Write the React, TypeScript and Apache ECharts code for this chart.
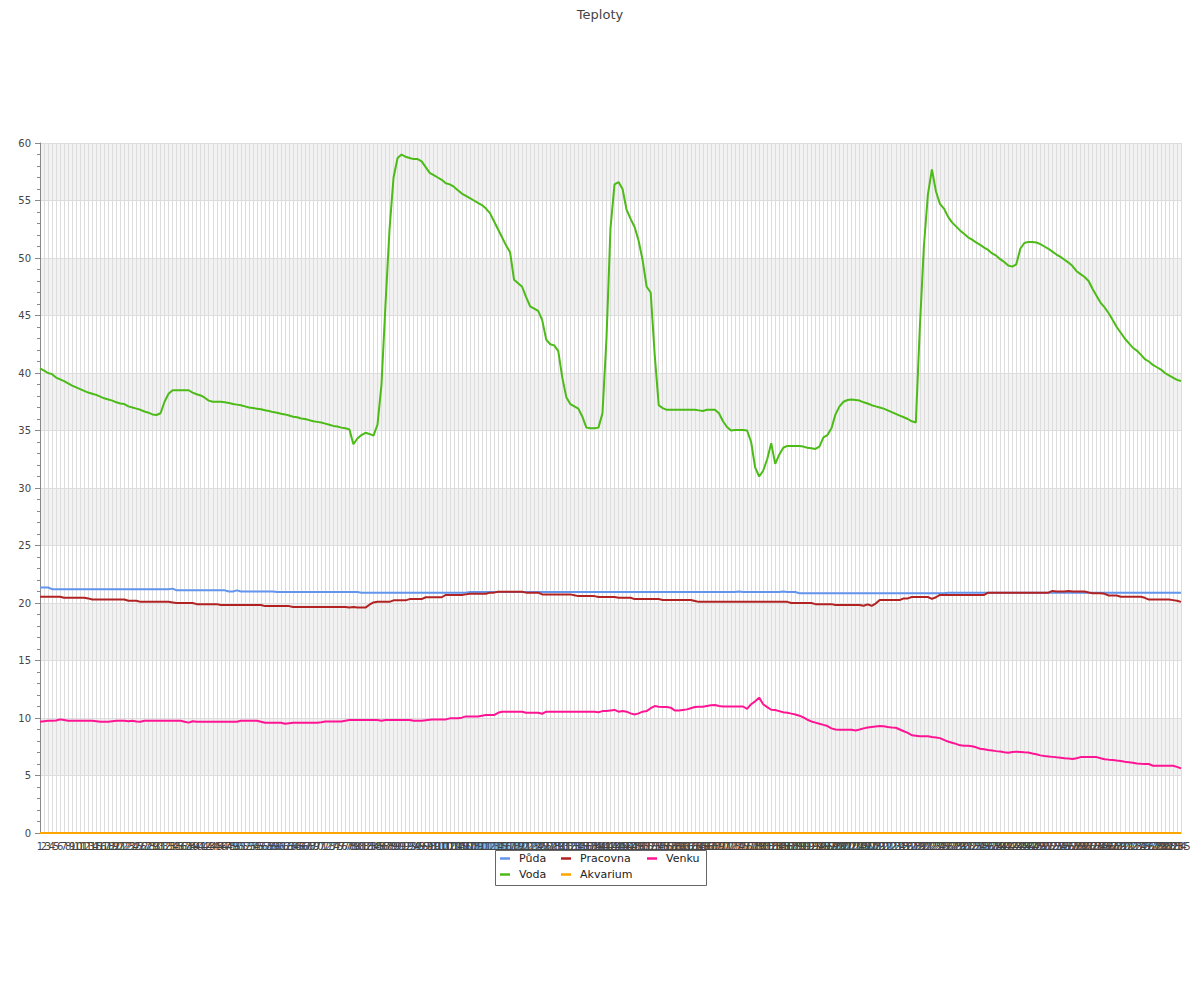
import React, { useEffect, useRef } from "react";
import * as echarts from "echarts";

const categories: string[] = Array.from({ length: 285 }, (_, i) => String(i + 1));

const seriesNames = ["Půda", "Voda", "Pracovna", "Akvarium", "Venku"];
const seriesColors = ["#6495ed", "#4cbb17", "#b22222", "#ffa500", "#ff1493"];

const puda: number[] = [
  21.35, 21.35, 21.35, 21.2, 21.2, 21.2, 21.2, 21.2, 21.2, 21.2,
  21.2, 21.2, 21.2, 21.2, 21.2, 21.2, 21.2, 21.2, 21.2, 21.2,
  21.2, 21.2, 21.2, 21.2, 21.2, 21.2, 21.2, 21.2, 21.2, 21.2,
  21.2, 21.2, 21.2, 21.25, 21.1, 21.1, 21.1, 21.1, 21.1, 21.1,
  21.1, 21.1, 21.1, 21.1, 21.1, 21.1, 21.1, 21.0, 21.0, 21.1,
  21.0, 21.0, 21.0, 21.0, 21.0, 21.0, 21.0, 21.0, 21.0, 20.95,
  20.95, 20.95, 20.95, 20.95, 20.95, 20.95, 20.95, 20.95, 20.95, 20.95,
  20.95, 20.95, 20.95, 20.95, 20.95, 20.95, 20.95, 20.95, 20.95, 20.95,
  20.9, 20.9, 20.9, 20.9, 20.9, 20.9, 20.9, 20.9, 20.9, 20.9,
  20.9, 20.9, 20.9, 20.9, 20.9, 20.9, 20.9, 20.9, 20.9, 20.9,
  20.9, 20.9, 20.9, 20.9, 20.9, 20.9, 20.9, 20.95, 20.95, 20.95,
  20.95, 20.95, 20.95, 20.95, 20.95, 20.95, 20.95, 20.95, 20.95, 20.95,
  20.95, 20.95, 20.95, 20.95, 20.95, 20.95, 20.95, 20.95, 20.95, 20.95,
  20.95, 20.95, 20.95, 20.95, 20.95, 20.95, 20.95, 20.95, 20.95, 20.95,
  20.95, 20.95, 20.95, 20.95, 20.95, 20.95, 20.95, 20.95, 20.95, 20.95,
  20.95, 20.95, 20.95, 20.95, 20.95, 20.95, 20.95, 20.95, 20.95, 20.95,
  20.95, 20.95, 20.95, 20.95, 20.95, 20.95, 20.95, 20.95, 20.95, 20.95,
  20.95, 20.95, 20.95, 20.95, 21.0, 20.95, 20.95, 20.95, 20.95, 20.95,
  20.95, 20.95, 20.95, 20.95, 20.95, 21.0, 20.95, 20.95, 20.95, 20.85,
  20.85, 20.85, 20.85, 20.85, 20.85, 20.85, 20.85, 20.85, 20.85, 20.85,
  20.85, 20.85, 20.85, 20.85, 20.85, 20.85, 20.85, 20.85, 20.85, 20.85,
  20.85, 20.85, 20.85, 20.85, 20.85, 20.85, 20.85, 20.85, 20.85, 20.85,
  20.85, 20.85, 20.85, 20.85, 20.85, 20.85, 20.9, 20.9, 20.9, 20.9,
  20.9, 20.9, 20.9, 20.9, 20.9, 20.9, 20.9, 20.9, 20.9, 20.9,
  20.9, 20.9, 20.9, 20.9, 20.9, 20.9, 20.9, 20.9, 20.9, 20.9,
  20.9, 20.9, 20.9, 20.9, 20.9, 20.9, 20.9, 20.9, 20.9, 20.9,
  20.9, 20.9, 20.9, 20.9, 20.9, 20.9, 20.9, 20.9, 20.9, 20.9,
  20.9, 20.9, 20.9, 20.9, 20.9, 20.9, 20.9, 20.9, 20.9, 20.9,
  20.9, 20.9, 20.9, 20.9, 20.9,
];

const voda: number[] = [
  40.4, 40.2, 40.0, 39.9, 39.6, 39.45, 39.3, 39.1, 38.9, 38.75,
  38.6, 38.45, 38.3, 38.2, 38.1, 37.95, 37.8, 37.7, 37.6, 37.45,
  37.35, 37.3, 37.1, 37.0, 36.9, 36.8, 36.65, 36.55, 36.4, 36.35,
  36.5, 37.5, 38.2, 38.5, 38.5, 38.5, 38.5, 38.5, 38.3, 38.15,
  38.05, 37.85, 37.6, 37.5, 37.5, 37.5, 37.45, 37.4, 37.3, 37.25,
  37.2, 37.1, 37.0, 36.95, 36.9, 36.85, 36.76, 36.7, 36.6, 36.55,
  36.45, 36.4, 36.3, 36.2, 36.15, 36.05, 36.0, 35.9, 35.8, 35.75,
  35.7, 35.6, 35.5, 35.4, 35.35, 35.25, 35.2, 35.1, 33.8, 34.3,
  34.6, 34.8, 34.7, 34.55, 35.5, 39.0, 46.0, 52.5, 57.0, 58.7,
  59.0, 58.8, 58.7, 58.6, 58.6, 58.4, 57.9, 57.4, 57.2, 57.0,
  56.8, 56.5, 56.4, 56.2, 55.9, 55.6, 55.4, 55.2, 55.0, 54.8,
  54.6, 54.3, 53.9, 53.2, 52.5, 51.8, 51.1, 50.5, 48.1, 47.8,
  47.5, 46.6, 45.8, 45.6, 45.4, 44.6, 42.9, 42.5, 42.4, 41.9,
  39.6, 37.9, 37.3, 37.1, 36.9, 36.2, 35.25, 35.2, 35.2, 35.25,
  36.5, 43.0, 52.6, 56.4, 56.6, 56.0, 54.2, 53.4, 52.7, 51.5,
  49.8, 47.5, 47.0, 41.6, 37.2, 36.95, 36.8, 36.8, 36.8, 36.8,
  36.8, 36.8, 36.8, 36.8, 36.75, 36.7, 36.8, 36.8, 36.8, 36.5,
  35.8, 35.3, 35.0, 35.05, 35.05, 35.05, 35.0, 34.0, 31.8, 31.0,
  31.5, 32.5, 33.9, 32.1, 32.9, 33.5, 33.66, 33.66, 33.66, 33.66,
  33.6, 33.5, 33.45, 33.4, 33.6, 34.4, 34.6, 35.2, 36.4, 37.1,
  37.5, 37.65, 37.7, 37.65, 37.6, 37.45, 37.35, 37.2, 37.1, 37.0,
  36.9, 36.75, 36.6, 36.45, 36.3, 36.15, 36.0, 35.8, 35.7, 44.0,
  51.0, 55.5, 57.7, 55.8, 54.7, 54.3, 53.6, 53.1, 52.75, 52.4,
  52.1, 51.8, 51.6, 51.35, 51.15, 50.9, 50.7, 50.4, 50.2, 49.9,
  49.65, 49.35, 49.25, 49.45, 50.8, 51.3, 51.4, 51.4, 51.35, 51.2,
  51.0, 50.8, 50.55, 50.3, 50.1, 49.85, 49.6, 49.3, 48.85, 48.6,
  48.35, 48.0, 47.3, 46.7, 46.1, 45.7, 45.2, 44.6, 44.0, 43.5,
  43.0, 42.6, 42.2, 41.95, 41.6, 41.2, 41.0, 40.7, 40.5, 40.3,
  40.0, 39.8, 39.6, 39.4, 39.3,
];

const pracovna: number[] = [
  20.55, 20.55, 20.55, 20.55, 20.55, 20.55, 20.46, 20.46, 20.46, 20.46,
  20.46, 20.46, 20.4, 20.3, 20.3, 20.3, 20.3, 20.3, 20.3, 20.3,
  20.3, 20.3, 20.2, 20.2, 20.2, 20.1, 20.1, 20.1, 20.1, 20.1,
  20.1, 20.1, 20.1, 20.05, 20.0, 20.0, 20.0, 20.0, 20.0, 19.9,
  19.9, 19.9, 19.9, 19.9, 19.9, 19.82, 19.82, 19.82, 19.82, 19.82,
  19.82, 19.82, 19.82, 19.82, 19.82, 19.82, 19.73, 19.73, 19.73, 19.73,
  19.73, 19.73, 19.73, 19.65, 19.65, 19.65, 19.65, 19.65, 19.65, 19.65,
  19.65, 19.65, 19.65, 19.65, 19.65, 19.65, 19.65, 19.6, 19.65, 19.6,
  19.6, 19.6, 19.85, 20.05, 20.1, 20.1, 20.1, 20.1, 20.23, 20.23,
  20.23, 20.23, 20.34, 20.34, 20.34, 20.34, 20.5, 20.5, 20.5, 20.5,
  20.5, 20.7, 20.7, 20.7, 20.7, 20.7, 20.75, 20.8, 20.8, 20.8,
  20.8, 20.8, 20.9, 20.9, 20.98, 20.98, 20.98, 20.98, 20.98, 20.98,
  20.98, 20.9, 20.9, 20.9, 20.9, 20.75, 20.75, 20.75, 20.75, 20.75,
  20.75, 20.75, 20.75, 20.68, 20.6, 20.6, 20.6, 20.6, 20.6, 20.52,
  20.52, 20.52, 20.52, 20.52, 20.46, 20.46, 20.46, 20.46, 20.34, 20.34,
  20.34, 20.34, 20.34, 20.34, 20.34, 20.26, 20.26, 20.26, 20.26, 20.26,
  20.26, 20.26, 20.26, 20.18, 20.1, 20.1, 20.1, 20.1, 20.1, 20.1,
  20.1, 20.1, 20.1, 20.1, 20.1, 20.1, 20.1, 20.1, 20.1, 20.1,
  20.1, 20.1, 20.1, 20.1, 20.1, 20.1, 20.1, 20.0, 20.0, 20.0,
  20.0, 20.0, 20.0, 19.9, 19.9, 19.9, 19.9, 19.9, 19.82, 19.82,
  19.82, 19.82, 19.82, 19.82, 19.82, 19.76, 19.88, 19.76, 19.95, 20.26,
  20.26, 20.26, 20.26, 20.26, 20.26, 20.4, 20.4, 20.52, 20.52, 20.52,
  20.52, 20.52, 20.36, 20.5, 20.7, 20.7, 20.7, 20.7, 20.7, 20.7,
  20.7, 20.7, 20.7, 20.7, 20.7, 20.7, 20.9, 20.9, 20.9, 20.9,
  20.9, 20.9, 20.9, 20.9, 20.9, 20.9, 20.9, 20.9, 20.9, 20.9,
  20.9, 20.9, 21.05, 21.0, 21.0, 21.0, 21.05, 21.0, 21.0, 21.0,
  21.0, 20.92, 20.85, 20.85, 20.85, 20.8, 20.65, 20.65, 20.65, 20.55,
  20.55, 20.55, 20.55, 20.55, 20.55, 20.45, 20.3, 20.3, 20.3, 20.3,
  20.3, 20.3, 20.25, 20.2, 20.1,
];

const akvarium: number[] = [
  0, 0, 0, 0, 0, 0, 0, 0, 0, 0, 0, 0, 0, 0, 0,
  0, 0, 0, 0, 0, 0, 0, 0, 0, 0, 0, 0, 0, 0, 0,
  0, 0, 0, 0, 0, 0, 0, 0, 0, 0, 0, 0, 0, 0, 0,
  0, 0, 0, 0, 0, 0, 0, 0, 0, 0, 0, 0, 0, 0, 0,
  0, 0, 0, 0, 0, 0, 0, 0, 0, 0, 0, 0, 0, 0, 0,
  0, 0, 0, 0, 0, 0, 0, 0, 0, 0, 0, 0, 0, 0, 0,
  0, 0, 0, 0, 0, 0, 0, 0, 0, 0, 0, 0, 0, 0, 0,
  0, 0, 0, 0, 0, 0, 0, 0, 0, 0, 0, 0, 0, 0, 0,
  0, 0, 0, 0, 0, 0, 0, 0, 0, 0, 0, 0, 0, 0, 0,
  0, 0, 0, 0, 0, 0, 0, 0, 0, 0, 0, 0, 0, 0, 0,
  0, 0, 0, 0, 0, 0, 0, 0, 0, 0, 0, 0, 0, 0, 0,
  0, 0, 0, 0, 0, 0, 0, 0, 0, 0, 0, 0, 0, 0, 0,
  0, 0, 0, 0, 0, 0, 0, 0, 0, 0, 0, 0, 0, 0, 0,
  0, 0, 0, 0, 0, 0, 0, 0, 0, 0, 0, 0, 0, 0, 0,
  0, 0, 0, 0, 0, 0, 0, 0, 0, 0, 0, 0, 0, 0, 0,
  0, 0, 0, 0, 0, 0, 0, 0, 0, 0, 0, 0, 0, 0, 0,
  0, 0, 0, 0, 0, 0, 0, 0, 0, 0, 0, 0, 0, 0, 0,
  0, 0, 0, 0, 0, 0, 0, 0, 0, 0, 0, 0, 0, 0, 0,
  0, 0, 0, 0, 0, 0, 0, 0, 0, 0, 0, 0, 0, 0, 0,
];

const venku: number[] = [
  9.68, 9.72, 9.76, 9.76, 9.78, 9.88, 9.82, 9.76, 9.76, 9.76,
  9.76, 9.76, 9.76, 9.76, 9.72, 9.68, 9.68, 9.68, 9.72, 9.76,
  9.76, 9.76, 9.72, 9.76, 9.7, 9.68, 9.76, 9.76, 9.76, 9.76,
  9.76, 9.76, 9.76, 9.76, 9.76, 9.76, 9.68, 9.6, 9.72, 9.68,
  9.68, 9.68, 9.68, 9.68, 9.68, 9.68, 9.68, 9.68, 9.68, 9.68,
  9.76, 9.76, 9.76, 9.76, 9.76, 9.68, 9.59, 9.59, 9.59, 9.59,
  9.59, 9.5, 9.55, 9.59, 9.59, 9.59, 9.59, 9.59, 9.59, 9.59,
  9.64, 9.7, 9.7, 9.7, 9.7, 9.7, 9.76, 9.82, 9.82, 9.82,
  9.82, 9.82, 9.82, 9.82, 9.82, 9.76, 9.82, 9.82, 9.82, 9.82,
  9.82, 9.82, 9.82, 9.76, 9.76, 9.76, 9.8, 9.84, 9.88, 9.88,
  9.88, 9.88, 9.97, 9.97, 9.97, 10.03, 10.14, 10.14, 10.14, 10.14,
  10.2, 10.26, 10.26, 10.26, 10.45, 10.55, 10.55, 10.55, 10.55, 10.55,
  10.55, 10.46, 10.46, 10.46, 10.46, 10.37, 10.55, 10.55, 10.55, 10.55,
  10.55, 10.55, 10.55, 10.55, 10.55, 10.55, 10.55, 10.55, 10.55, 10.5,
  10.6, 10.6, 10.65, 10.7, 10.55, 10.6, 10.55, 10.4, 10.3, 10.4,
  10.55, 10.6, 10.85, 11.04, 10.98, 10.95, 10.95, 10.9, 10.65, 10.65,
  10.7, 10.75, 10.85, 10.95, 10.98, 10.98, 11.05, 11.1, 11.13, 11.05,
  11.0, 11.0, 11.0, 11.0, 11.0, 11.0, 10.8, 11.2, 11.45, 11.77,
  11.2, 10.95, 10.72, 10.7, 10.6, 10.5, 10.45, 10.38, 10.3, 10.2,
  10.05, 9.85, 9.7, 9.6, 9.5, 9.4, 9.3, 9.1, 9.0, 8.98,
  8.98, 8.98, 8.98, 8.92, 9.0, 9.1, 9.18, 9.22, 9.26, 9.3,
  9.28, 9.22, 9.18, 9.15, 9.0, 8.85, 8.7, 8.5, 8.46, 8.42,
  8.42, 8.42, 8.35, 8.3, 8.25, 8.1, 7.95, 7.85, 7.75, 7.62,
  7.59, 7.59, 7.55, 7.45, 7.33, 7.28, 7.22, 7.17, 7.12, 7.08,
  7.02, 6.98, 7.05, 7.07, 7.05, 7.02, 7.0, 6.92, 6.85, 6.75,
  6.7, 6.66, 6.62, 6.58, 6.55, 6.5, 6.47, 6.43, 6.5, 6.6,
  6.6, 6.6, 6.6, 6.6, 6.5, 6.42, 6.38, 6.35, 6.3, 6.26,
  6.2, 6.15, 6.1, 6.05, 6.02, 6.0, 6.0, 5.85, 5.85, 5.85,
  5.85, 5.85, 5.85, 5.75, 5.62,
];

const seriesData = [puda, voda, pracovna, akvarium, venku];

// legend placement (column layout like the original)
const legendSlots = [
  { name: "Půda", left: 500, top: 853 },
  { name: "Pracovna", left: 561, top: 853 },
  { name: "Venku", left: 647, top: 853 },
  { name: "Voda", left: 500, top: 869 },
  { name: "Akvarium", left: 561, top: 869 },
];

const FONT = "DejaVu Sans";

export default function App() {
  const ref = useRef<HTMLDivElement>(null);
  useEffect(() => {
    if (!ref.current) return;
    const chart = echarts.init(ref.current, null, { renderer: "svg" });
    const option: any = {
      animation: false,
      backgroundColor: "#ffffff",
      textStyle: { fontFamily: FONT },
      title: {
        text: "Teploty",
        left: "center",
        top: 3,
        textStyle: { fontFamily: FONT, fontSize: 13, fontWeight: "normal", color: "#444" },
      },
      legend: legendSlots.map((s) => ({
        data: [s.name],
        left: s.left,
        top: s.top,
        padding: 0,
        itemGap: 0,
        icon: "rect",
        itemWidth: 10,
        itemHeight: 2.5,
        selectedMode: false,
        z: 5,
        textStyle: { fontFamily: FONT, fontSize: 11, color: "#222", padding: [0, 0, 0, 4] },
      })),
      graphic: [
        {
          type: "rect",
          z: 1,
          shape: { x: 495.5, y: 850.5, width: 211, height: 35 },
          style: { fill: "#ffffff", stroke: "#666", lineWidth: 1 },
        },
      ],
      grid: { left: 40, right: 19, top: 143, bottom: 167, containLabel: false },
      xAxis: {
        type: "category",
        data: categories,
        boundaryGap: false,
        axisLine: { show: true, lineStyle: { color: "#888" } },
        axisTick: { show: false },
        axisLabel: { interval: 0, fontSize: 10, color: "#444", margin: 8, fontFamily: FONT },
        splitLine: { show: true, interval: 0, lineStyle: { color: "#dddddd", width: 1 } },
      },
      yAxis: {
        type: "value",
        min: 0,
        max: 60,
        interval: 5,
        axisLine: { show: true, lineStyle: { color: "#888" } },
        axisTick: { show: true, length: 5, lineStyle: { color: "#888" } },
        minorTick: { show: true, splitNumber: 5, length: 3, lineStyle: { color: "#888" } },
        axisLabel: { fontSize: 10, color: "#444", margin: 9, fontFamily: FONT },
        splitLine: { show: true, lineStyle: { color: "#dddddd" } },
        splitArea: { show: true, areaStyle: { color: ["rgba(255,255,255,0)", "#f2f2f2"] } },
      },
      series: seriesNames.map((name, k) => ({
        name,
        type: "line",
        data: seriesData[k],
        symbol: "none",
        showSymbol: false,
        color: seriesColors[k],
        lineStyle: { width: 2, color: seriesColors[k] },
        emphasis: { disabled: true },
        z: 3,
      })),
    };
    chart.setOption(option);
    return () => chart.dispose();
  }, []);
  return (
    <div
      ref={ref}
      style={{ position: "fixed", left: 0, top: 0, width: 1200, height: 1000, background: "#fff" }}
    />
  );
}
